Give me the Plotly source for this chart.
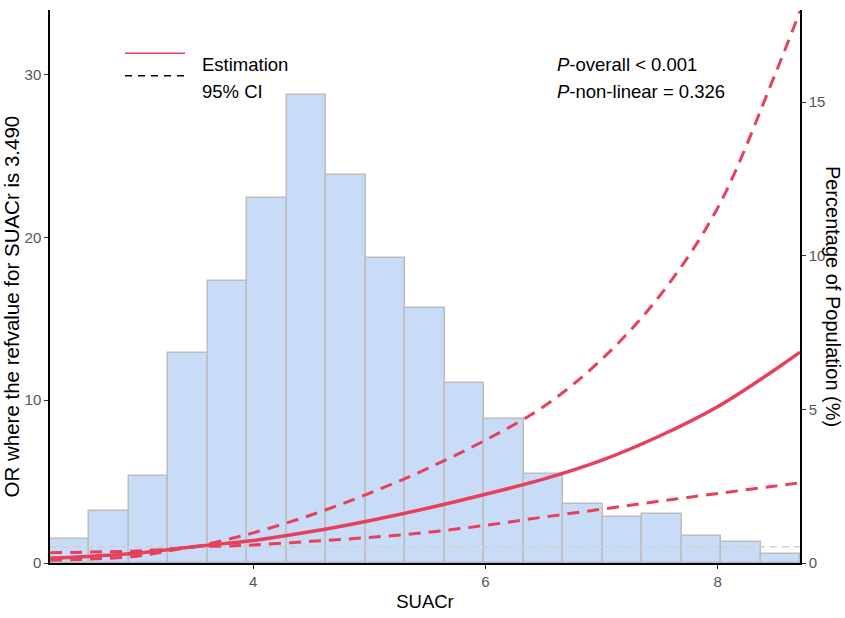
import plotly.graph_objects as go

# Histogram of SUACr (percentage of population per bin)
bin_left = [2.25, 2.59, 2.93, 3.27, 3.61, 3.95, 4.29, 4.63, 4.97, 5.31,
            5.65, 5.99, 6.33, 6.67, 7.01, 7.35, 7.69, 8.03, 8.37]
bin_width = 0.34
pct_pop = [0.78, 1.69, 2.83, 6.84, 9.19, 11.89, 15.24, 12.64, 9.94, 8.30,
           5.85, 4.70, 2.89, 1.91, 1.51, 1.60, 0.88, 0.68, 0.29]

# RCS curve: OR relative to SUACr = 3.490
suacr = [2.25, 2.6, 3.0, 3.2, 3.49, 3.75, 4.0, 4.5, 5.0, 5.5, 6.0, 6.5,
         7.0, 7.5, 8.0, 8.5, 8.71]
or_est = [0.30, 0.42, 0.60, 0.76, 1.00, 1.19, 1.38, 1.93, 2.60, 3.36, 4.22,
          5.15, 6.30, 7.80, 9.60, 11.9, 12.95]
or_upper = [0.63, 0.67, 0.74, 0.82, 1.00, 1.40, 1.85, 2.95, 4.28, 5.80, 7.55,
            9.60, 12.5, 16.4, 21.8, 30.1, 33.9]
or_lower = [0.17, 0.24, 0.42, 0.64, 1.00, 1.03, 1.11, 1.33, 1.57, 1.88, 2.31,
            2.82, 3.30, 3.80, 4.27, 4.73, 4.93]
ref_or = 1
x_range = [2.25, 8.71]

red = '#E6405C'
font = 'Arial, Liberation Sans, sans-serif'

fig = go.Figure()

fig.add_trace(go.Bar(x=bin_left, y=pct_pop, width=bin_width, offset=0,
                     marker=dict(color='#C9DCF7', line=dict(color='#BDBDBD', width=1.5)),
                     yaxis='y', showlegend=False))

fig.add_trace(go.Scatter(x=x_range, y=[ref_or, ref_or], mode='lines', yaxis='y2',
                         line=dict(color='#CFCFCF', width=1.5, dash='7px,5px'),
                         showlegend=False))

for ci in [or_upper, or_lower]:
    fig.add_trace(go.Scatter(x=suacr, y=ci, mode='lines', yaxis='y2',
                             line=dict(color=red, width=3, dash='12px,8px', shape='spline'),
                             showlegend=False))

fig.add_trace(go.Scatter(x=suacr, y=or_est, mode='lines', yaxis='y2',
                         line=dict(color=red, width=3.5, shape='spline'),
                         showlegend=False))

axis_style = dict(showline=True, linecolor='black', linewidth=1.5, ticks='outside',
                  ticklen=4, tickcolor='#333333', tickwidth=1.2, showgrid=False,
                  zeroline=False, automargin=False,
                  tickfont=dict(size=15, color='#555555', family=font))

fig.update_layout(
    width=845, height=618,
    margin=dict(l=50, r=45, t=10, b=55),
    plot_bgcolor='white', paper_bgcolor='white',
    font=dict(family=font, color='black'),
    bargap=0,
    xaxis=dict(range=x_range, tickvals=[4, 6, 8], **axis_style,
               title=dict(text='SUACr', font=dict(size=18.5), standoff=6)),
    yaxis=dict(range=[0, 18.0], tickvals=[0, 5, 10, 15], side='right', **axis_style),
    yaxis2=dict(range=[0, 33.97], tickvals=[0, 10, 20, 30], side='left',
                overlaying='y', **axis_style),
)

# y axis titles (the right one reads top to bottom)
fig.add_annotation(text='OR where the refvalue for SUACr is 3.490', xref='paper', yref='paper',
                   x=0, y=0.463, xshift=-52, textangle=-90, showarrow=False,
                   font=dict(size=20.5))
fig.add_annotation(text='Percentage of Population (%)', xref='paper', yref='paper',
                   x=1, y=0.483, xshift=46, textangle=90, showarrow=False,
                   font=dict(size=20))

# legend keys
fig.add_shape(type='line', xref='paper', yref='paper', x0=0.1, x1=0.18, y0=0.922, y1=0.922,
              line=dict(color=red, width=1.5))
fig.add_shape(type='line', xref='paper', yref='paper', x0=0.1, x1=0.18, y0=0.881, y1=0.881,
              line=dict(color='black', width=1.5, dash='7px,6px'))
fig.add_annotation(text='Estimation', xref='paper', yref='paper', x=0.2, y=0.924,
                   xanchor='left', showarrow=False, font=dict(size=18.5))
fig.add_annotation(text='95% CI', xref='paper', yref='paper', x=0.2, y=0.875,
                   xanchor='left', showarrow=False, font=dict(size=18.5))

# p-values
fig.add_annotation(text='<i>P</i>-overall &lt; 0.001', xref='paper', yref='paper',
                   x=0.673, y=0.924, xanchor='left', showarrow=False, font=dict(size=18.5))
fig.add_annotation(text='<i>P</i>-non-linear = 0.326', xref='paper', yref='paper',
                   x=0.673, y=0.875, xanchor='left', showarrow=False, font=dict(size=18.5))

# drop the default 8px page margin so the figure fills the window exactly
fig.write_html('out.html', config={'displayModeBar': False},
               post_script="document.body.style.margin='0px';")
